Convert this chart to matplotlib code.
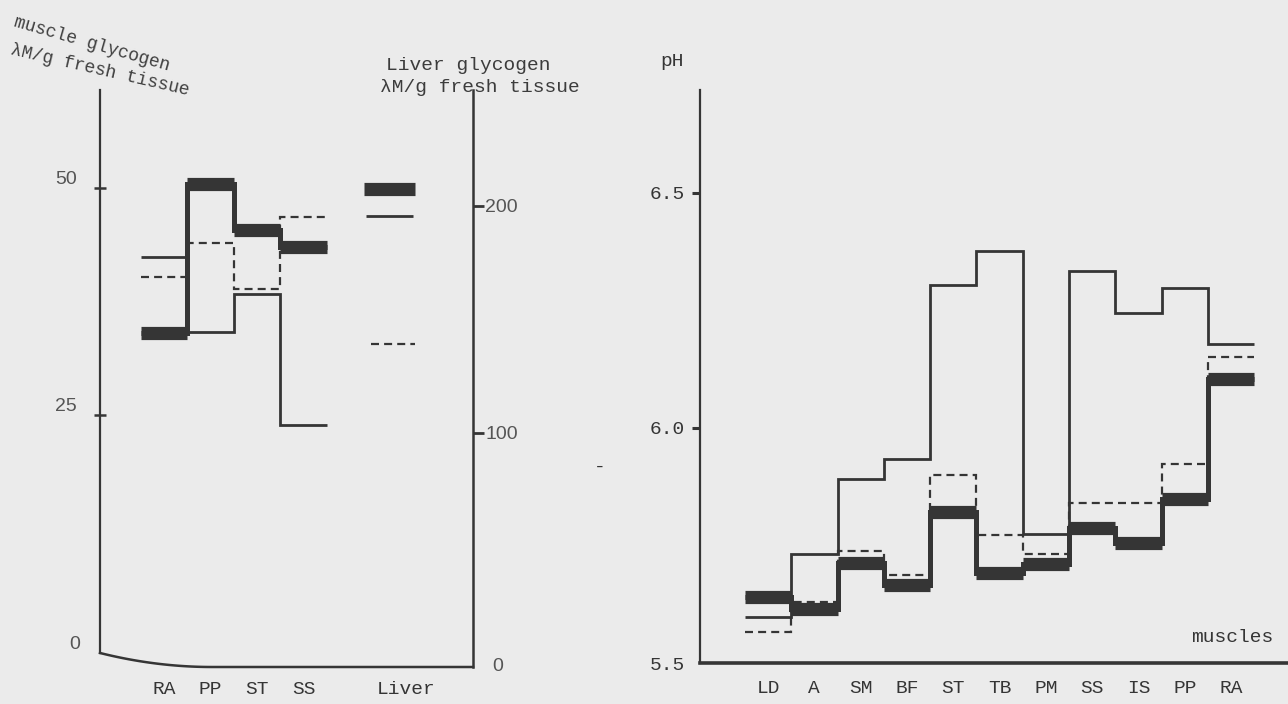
import numpy as np
import matplotlib.pyplot as plt

# muscle glycogen, umol/g fresh tissue (left scale)
glyc_muscles = ['RA', 'PP', 'ST', 'SS']
glyc_thick = [34.0, 50.5, 45.4, 43.5]
glyc_thin = [42.4, 34.1, 38.3, 23.9]
glyc_dash = [40.2, 44.0, 38.9, 46.8]

# liver glycogen (right scale)
liver_label = 'Liver'
liver_thick = 207.5
liver_thin = 195.7
liver_dash = 139.2

# ultimate pH per muscle
ph_muscles = ['LD', 'A', 'SM', 'BF', 'ST', 'TB', 'PM', 'SS', 'IS', 'PP', 'RA']
ph_thick = [5.640, 5.614, 5.712, 5.666, 5.822, 5.691, 5.710, 5.787, 5.755, 5.848, 6.104]
ph_thin = [5.598, 5.732, 5.891, 5.934, 6.304, 6.377, 5.774, 6.335, 6.244, 6.297, 6.179]
ph_dash = [5.567, 5.629, 5.739, 5.687, 5.900, 5.772, 5.731, 5.840, 5.840, 5.923, 6.152]

W, H = 1288, 704
DARK = '#353535'
BG = '#ebebeb'
MONO = 'Liberation Mono'
SANS = 'Liberation Sans'
DASH = (0, (3.6, 2.3))

fig = plt.figure(figsize=(W / 100, H / 100), dpi=100, facecolor=BG)


def add_px_axes(l, t, r, b):
    return fig.add_axes([l / W, 1 - b / H, (r - l) / W, (b - t) / H])


def draw_series(ax, edges, thick, thin, dash):
    ax.stairs(thick, edges, baseline=None, color=DARK, lw=3.6, zorder=2)
    ax.hlines(thick, edges[:-1], edges[1:], color=DARK, lw=9.5, zorder=2,
              capstyle='butt')
    ax.stairs(thin, edges, baseline=None, color=DARK, lw=2.0, zorder=3)
    ax.stairs(dash, edges, baseline=None, color=DARK, lw=1.6, ls=DASH, zorder=3)


# ---------------- left panel: glycogen ----------------
ax1 = add_px_axes(100, 90, 473, 667)
ax1.set_facecolor('none')
edges1 = np.arange(len(glyc_muscles) + 1, dtype=float)
draw_series(ax1, edges1, glyc_thick, glyc_thin, glyc_dash)
ax1.set_xlim(-0.88, 7.14)
ax1.set_ylim(-2.75, 60.8)
for s in ['top', 'right', 'bottom']:
    ax1.spines[s].set_visible(False)
ax1.spines['left'].set_bounds(-1.21, 60.8)
ax1.spines['left'].set_color(DARK)
ax1.spines['left'].set_linewidth(1.6)
ax1.set_yticks([25, 50])
ax1.set_yticklabels(['25', '50'], fontfamily=SANS, fontsize=14,
                    color='#555555', va='bottom')
ax1.set_yticks([0], labels=['0'], minor=True)
for lab in ax1.get_yticklabels(minor=True):
    lab.set(fontfamily=SANS, fontsize=14, color='#555555')
ax1.tick_params(axis='y', which='major', direction='inout', length=9, width=1.8,
                color=DARK, pad=12)
ax1.tick_params(axis='y', which='minor', length=0, pad=14)
ax1.set_xticks(list(np.arange(len(glyc_muscles)) + 0.5) + [5.7])
ax1.set_xticklabels(glyc_muscles + [liver_label], fontfamily=MONO, fontsize=14,
                    color=DARK)
ax1.tick_params(axis='x', length=0, pad=10)

# curved base line of the glycogen frame
t = np.linspace(0, 1, 40)
ax1.plot(np.r_[0.30 * t, 1.0], np.r_[0.0243 * (1 - t) ** 2, 0.0],
         transform=ax1.transAxes, clip_on=False, color=DARK, lw=1.8)

ax1r = ax1.twinx()
ax1r.set_facecolor('none')
ax1r.set_ylim(-3.1, 251)
for s in ['top', 'left', 'bottom']:
    ax1r.spines[s].set_visible(False)
ax1r.spines['right'].set_color(DARK)
ax1r.spines['right'].set_linewidth(1.8)
ax1r.hlines([liver_thick], 4.8, 5.9, color=DARK, lw=9.5, capstyle='butt')
ax1r.hlines([liver_thin], 4.85, 5.85, color=DARK, lw=2.0)
ax1r.hlines([liver_dash], 4.95, 5.9, color=DARK, lw=1.6, ls=DASH)
ax1r.set_yticks([100, 200])
ax1r.set_yticklabels(['100', '200'], fontfamily=SANS, fontsize=14, color='#555555')
ax1r.set_yticks([-2], labels=['0'], minor=True)
for lab in ax1r.get_yticklabels(minor=True):
    lab.set(fontfamily=SANS, fontsize=14, color='#555555')
ax1r.tick_params(axis='y', which='major', direction='out', length=8, width=2,
                 color=DARK, pad=1)
ax1r.tick_params(axis='y', which='minor', length=0, pad=14)

fig.text(13 / W, 1 - 26 / H, 'muscle glycogen', fontfamily=MONO, fontsize=13,
         color='#404040', rotation=-16, rotation_mode='anchor',
         ha='left', va='baseline')
fig.text(10 / W, 1 - 54 / H, 'λM/g fresh tissue', fontfamily=MONO, fontsize=13,
         color='#404040', rotation=-13, rotation_mode='anchor',
         ha='left', va='baseline')
fig.text(386 / W, 1 - 66 / H, 'Liver glycogen', fontfamily=MONO, fontsize=14,
         color='#3c3c3c', ha='left', va='center')
fig.text(380 / W, 1 - 88 / H, 'λM/g fresh tissue', fontfamily=MONO, fontsize=14,
         color='#3c3c3c', ha='left', va='center')
fig.text(600 / W, 1 - 467 / H, '-', fontfamily=MONO, fontsize=14,
         color=DARK, ha='center', va='center')

# ---------------- right panel: pH ----------------
ax2 = add_px_axes(700, 90, 1288, 663)
ax2.set_facecolor('none')
edges2 = np.arange(len(ph_muscles) + 1, dtype=float)
draw_series(ax2, edges2, ph_thick, ph_thin, ph_dash)
ax2.set_xlim(-0.97, 11.73)
ax2.set_ylim(5.5, 6.719)
for s in ['top', 'right']:
    ax2.spines[s].set_visible(False)
ax2.spines['left'].set_color(DARK)
ax2.spines['left'].set_linewidth(1.6)
ax2.spines['bottom'].set_color(DARK)
ax2.spines['bottom'].set_linewidth(2.6)
ax2.set_yticks([6.0, 6.5])
ax2.set_yticklabels(['6.0', '6.5'], fontfamily=MONO, fontsize=14, color=DARK)
ax2.set_yticks([5.5], labels=['5.5'], minor=True)
for lab in ax2.get_yticklabels(minor=True):
    lab.set(fontfamily=MONO, fontsize=14, color=DARK)
ax2.tick_params(axis='y', which='major', direction='out', length=6, width=2.2,
                color=DARK, pad=5)
ax2.tick_params(axis='y', which='minor', length=0, pad=11)
ax2.set_xticks(np.arange(len(ph_muscles)) + 0.5)
ax2.set_xticklabels(ph_muscles, fontfamily=MONO, fontsize=14, color=DARK)
ax2.tick_params(axis='x', length=0, pad=12)

fig.text(672 / W, 1 - 62 / H, 'pH', fontfamily=MONO, fontsize=14, color=DARK,
         ha='center', va='center')
fig.text(1232 / W, 1 - 637 / H, 'muscles', fontfamily=MONO, fontsize=14, color=DARK,
         ha='center', va='center')

fig.savefig('out.png', dpi=100, facecolor=BG)
